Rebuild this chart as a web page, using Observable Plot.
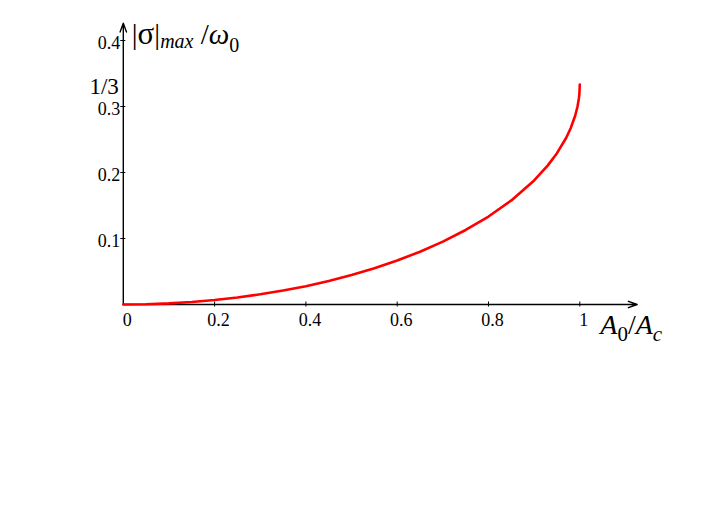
<!DOCTYPE html>
<html>
<head>
<meta charset="utf-8">
<script src="https://cdn.jsdelivr.net/npm/d3@7"></script>
<script src="https://cdn.jsdelivr.net/npm/@observablehq/plot@0.6"></script>
<style>
  html, body { margin: 0; padding: 0; background: #fff; }
  svg { display: block; }
</style>
</head>
<body>
<div id="chart"></div>
<script>
// Ratio A0/Ac (x) and |sigma|max/omega0 (y)
const ratio = [0, 0.05, 0.1, 0.15, 0.2, 0.25, 0.3, 0.35, 0.4, 0.45, 0.5, 0.55, 0.6, 0.65, 0.7, 0.75, 0.8, 0.85, 0.9, 0.93, 0.95, 0.97, 0.98, 0.99, 0.995, 0.998, 0.999, 1.0];
const sigmaMax = [0, 0.0004, 0.0017, 0.0038, 0.0067, 0.0106, 0.0154, 0.0211, 0.0278, 0.0357, 0.0447, 0.0550, 0.0667, 0.0800, 0.0953, 0.1129, 0.1333, 0.1577, 0.1880, 0.2108, 0.2293, 0.2523, 0.2670, 0.2863, 0.3000, 0.3123, 0.3184, 0.3333];

const xTicks = [0, 0.2, 0.4, 0.6, 0.8, 1];
const xTickLabels = ["0", "0.2", "0.4", "0.6", "0.8", "1"];
const yTicks = [0.1, 0.2, 0.3, 0.4];
const yTickLabels = ["0.1", "0.2", "0.3", "0.4"];
const markedValue = [1 / 3];
const markedLabel = ["1/3"];

const curve = ratio.map((x, i) => ({x, y: sigmaMax[i]}));
const serif = "'Liberation Serif', 'Times New Roman', serif";

// axis extents beyond the domain (arrow tips)
const xAxisEnd = 1.1257;
const yAxisEnd = 0.4262;

const chart = Plot.plot({
  width: 706,
  height: 530,
  marginLeft: 122.8,
  marginRight: 126.7,
  marginTop: 40,
  marginBottom: 226,
  x: {domain: [0, 1], axis: null},
  y: {domain: [0, 0.4], axis: null},
  style: {fontFamily: serif, background: "#fff"},
  marks: [
    Plot.arrow([{x1: 0, y1: 0, x2: xAxisEnd, y2: 0}], {x1: "x1", y1: "y1", x2: "x2", y2: "y2", stroke: "#000", strokeWidth: 1.4, headLength: 10, headAngle: 40}),
    Plot.arrow([{x1: 0, y1: 0, x2: 0, y2: yAxisEnd}], {x1: "x1", y1: "y1", x2: "x2", y2: "y2", stroke: "#000", strokeWidth: 1.4, headLength: 10, headAngle: 40}),
    Plot.ruleX(xTicks.slice(1), {x: d => d, y1: 0, y2: 0, insetTop: -2.5, insetBottom: -2.5, stroke: "#000", strokeWidth: 1}),
    Plot.ruleY(yTicks, {y: d => d, x1: 0, x2: 0, insetLeft: -2.5, insetRight: -2.5, stroke: "#000", strokeWidth: 1}),
    Plot.text(xTicks, {x: d => d, y: 0, text: (d, i) => xTickLabels[i], dy: 16, dx: 4, fontSize: 18, fill: "#000"}),
    Plot.text(yTicks, {x: 0, y: d => d, text: (d, i) => yTickLabels[i], dx: -3, dy: 2.5, textAnchor: "end", fontSize: 18, fill: "#000"}),
    Plot.text(markedValue, {x: 0, y: d => d, text: (d, i) => markedLabel[i], dx: -4.5, dy: 2.6, textAnchor: "end", fontSize: 23, fill: "#000"}),
    Plot.line(curve, {x: "x", y: "y", stroke: "#ff0000", strokeWidth: 2.6, curve: "linear"})
  ]
});

document.getElementById("chart").appendChild(chart);

// axis titles with sub-scripts, anchored to the scales
const sx = chart.scale("x"), sy = chart.scale("y");
const svg = d3.select(chart);

const yt = svg.append("text")
  .attr("x", sx.apply(0) + 9)
  .attr("y", sy.apply(yAxisEnd) + 21.5)
  .attr("text-anchor", "start")
  .attr("font-family", serif)
  .attr("font-size", 29)
  .attr("fill", "#000");
yt.append("tspan").text("|");
yt.append("tspan").attr("font-size", 31).text("σ");
yt.append("tspan").text("|");
yt.append("tspan").attr("font-style", "italic").attr("font-size", 20).attr("dy", 4).text("max");
yt.append("tspan").attr("dy", -4).text(" /");
yt.append("tspan").attr("font-style", "italic").text("ω");
yt.append("tspan").attr("font-size", 20).attr("dy", 8).text("0");

const xt = svg.append("text")
  .attr("x", sx.apply(1) + 21)
  .attr("y", sy.apply(0) + 30)
  .attr("text-anchor", "start")
  .attr("font-family", serif)
  .attr("font-size", 28)
  .attr("fill", "#000");
xt.append("tspan").attr("font-style", "italic").text("A");
xt.append("tspan").attr("font-size", 21).attr("dy", 7).text("0");
xt.append("tspan").attr("dy", -7).text("/");
xt.append("tspan").attr("font-style", "italic").text("A");
xt.append("tspan").attr("font-style", "italic").attr("font-size", 21).attr("dy", 7).text("c");
</script>
</body>
</html>
